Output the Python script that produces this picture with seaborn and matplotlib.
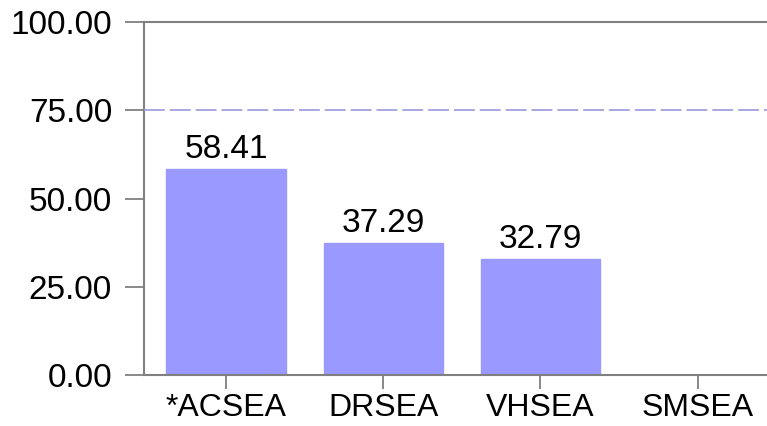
import matplotlib
matplotlib.use('Agg')
import matplotlib.pyplot as plt
import pandas as pd
import seaborn as sns

# Chart values
categories = ['*ACSEA', 'DRSEA', 'VHSEA', 'SMSEA']
values = [58.41, 37.29, 32.79, 0.0]
y_ticks = [0, 25, 50, 75, 100]
target = 75

df = pd.DataFrame({'Group': categories, 'Value': values})

sns.set_style('white')
plt.rcParams['font.family'] = ['Liberation Sans', 'DejaVu Sans']
plt.rcParams['text.color'] = 'black'
plt.rcParams['xtick.labelcolor'] = 'black'
plt.rcParams['ytick.labelcolor'] = 'black'

fig = plt.figure(figsize=(7.67, 4.26), dpi=100)
ax = fig.add_axes([144 / 767, 51 / 426, 640 / 767, 353 / 426])

sns.barplot(x='Group', y='Value', data=df, color='#9999ff', saturation=1,
            width=0.76, edgecolor='#9999ff', linewidth=1, ax=ax, zorder=2)

# Reference line
ax.axhline(target, color='#9a9ade', linewidth=1.2, dashes=(12.5, 3), zorder=3)

# Value labels above the bars
labels = [f'{v:.2f}' if v > 0 else '' for v in values]
ax.bar_label(ax.containers[0], labels=labels, padding=3, fontsize=24, color='black')

ax.set_ylim(0, 100)
ax.set_xlim(-0.523, 3.55)
ax.set_yticks(y_ticks)
ax.set_yticklabels([f'{t:.2f}' for t in y_ticks])
ax.set_xlabel('')
ax.set_ylabel('')

for side in ['left', 'top', 'bottom']:
    ax.spines[side].set_color('#808080')
    ax.spines[side].set_linewidth(1.5)
ax.spines['right'].set_visible(False)

ax.tick_params(axis='y', direction='out', length=14, width=1.3, color='#808080',
               labelsize=24, pad=9, left=True)
ax.tick_params(axis='x', direction='out', length=10, width=1.3, color='#808080',
               labelsize=23, pad=3, bottom=True)

fig.savefig('out.png', dpi=100)
